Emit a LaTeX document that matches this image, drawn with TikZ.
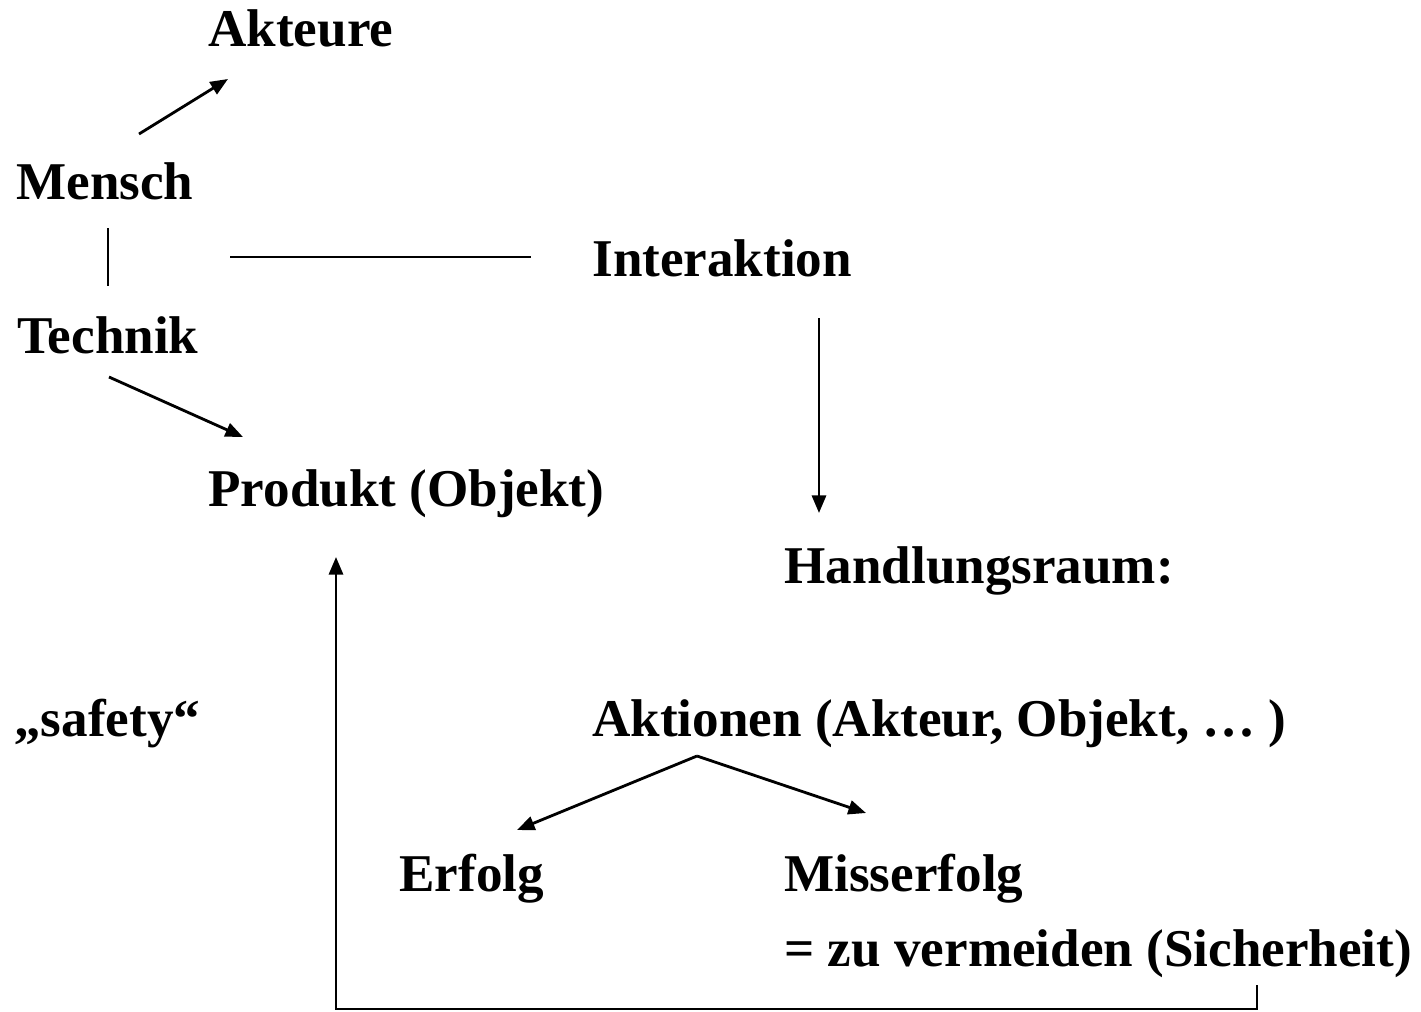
\documentclass[tikz,border=0pt]{standalone}
\usepackage{fontspec}
\setmainfont{Liberation Serif}
\usetikzlibrary{arrows.meta, positioning, calc}

\begin{document}
\begin{tikzpicture}[x=0.01cm, y=-0.01cm, line width=0.8pt,
    txt/.style={anchor=base west, inner sep=0pt, font=\fontsize{15.1}{18}\selectfont\bfseries},
    pfeil/.style={-{Triangle[length=5pt, width=4pt]}}]
  \useasboundingbox (0,0) rectangle (1421,1012);
  % Begriffe
  \node[txt] (akteure)  at (207,46)  {Akteure};
  \node[txt] (mensch)   at (15,199)  {Mensch};
  \node[txt] (interakt) at (591,276) {Interaktion};
  \node[txt] (technik)  at (16,353)  {Technik};
  \node[txt] (produkt)  at (207,506) {Produkt (Objekt)};
  \node[txt] (raum)     at (783,583) {Handlungsraum:};
  \node[txt] (safety)   at (13,736)  {„safety“};
  \node[txt] (aktionen) at (591,736) {Aktionen (Akteur, Objekt, … )};
  \node[txt] (erfolg)   at (398,891) {Erfolg};
  \node[txt] (miss)     at (783,891) {Misserfolg};
  \node[txt] (sicher)   at (783,966) {= zu vermeiden (Sicherheit)};
  % Endpunkte der Verbindungen
  \coordinate (m-out) at (139,134);  \coordinate (a-in) at (228,79);
  \coordinate (m-dn) at (108,228);   \coordinate (t-up) at (108,286);
  \coordinate (mt-r) at (230,257);   \coordinate (i-l) at (531,257);
  \coordinate (t-out) at (109,377);  \coordinate (p-in) at (243,437);
  \coordinate (i-out) at (819,318);  \coordinate (r-in) at (819,513);
  \coordinate (ak-out) at (697,756);
  \coordinate (e-in) at (517,830);   \coordinate (mi-in) at (866,813);
  \coordinate (s-out) at (1257,985); \coordinate (p-up) at (336,557);
  % Verbindungen
  \draw[pfeil] (m-out) -- (a-in);
  \draw (m-dn) -- (t-up);
  \draw (mt-r) -- (i-l);
  \draw[pfeil] (t-out) -- (p-in);
  \draw[pfeil] (i-out) -- (r-in);
  \draw[pfeil] (ak-out) -- (e-in);
  \draw[pfeil] (ak-out) -- (mi-in);
  \draw[pfeil] (s-out) -- ++(0,24) -| (p-up);
\end{tikzpicture}
\end{document}
